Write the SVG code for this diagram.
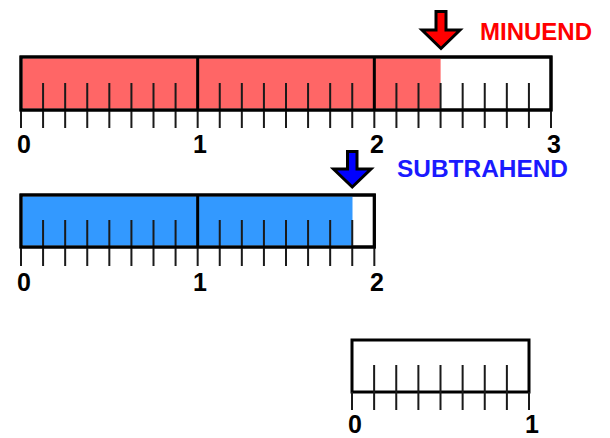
<svg xmlns="http://www.w3.org/2000/svg" width="610" height="438" viewBox="0 0 610 438">
<style>
.bar{fill:#fff;stroke:#000;stroke-width:3}
.tk{stroke:#1a1a1a;stroke-width:2}
.dv{stroke:#000;stroke-width:3}
.num{font-family:"Liberation Sans",Arial,sans-serif;font-weight:bold;font-size:25px;fill:#000;text-anchor:middle}
.lbl{font-family:"Liberation Sans",Arial,sans-serif;font-weight:bold;font-size:23px}
.arr{stroke:#000;stroke-width:3;stroke-linejoin:miter}
</style>
<g id="minuend-bar">
<rect class="bar" x="21" y="57" width="530" height="53"/>
<rect x="22.5" y="58.5" width="418.1" height="50" fill="#ff6666"/>
<path class="tk" d="M21 110V128M43.08 83V128M65.17 83V128M87.25 83V128M109.33 83V128M131.42 83V128M153.5 83V128M175.58 83V128M197.67 110V128M219.75 83V128M241.83 83V128M263.92 83V128M286 83V128M308.08 83V128M330.17 83V128M352.25 83V128M374.33 110V128M396.42 83V128M418.5 83V128M440.58 83V128M462.67 83V128M484.75 83V128M506.83 83V128M528.92 83V128M551 110V128"/>
<path class="dv" d="M197.67 57V110M374.33 57V110"/>
<rect x="21" y="57" width="530" height="53" fill="none" stroke="#000" stroke-width="3"/>
<text class="num" x="24" y="153">0</text>
<text class="num" x="200" y="153">1</text>
<text class="num" x="377" y="153">2</text>
<text class="num" x="554" y="153">3</text>
</g>
<g id="minuend-arrow">
<path class="arr" fill="#ff0000" d="M436 11.5H446V30H460L441 48.5L422 30H436Z"/>
<text class="lbl" x="480" y="39.5" fill="#ff0000" textLength="112" lengthAdjust="spacingAndGlyphs">MINUEND</text>
</g>
<g id="subtrahend-bar">
<rect class="bar" x="21" y="195" width="353.33" height="52"/>
<rect x="22.5" y="196.5" width="330" height="49" fill="#3399ff"/>
<path class="tk" d="M21 247V266M43.08 220V266M65.17 220V266M87.25 220V266M109.33 220V266M131.42 220V266M153.5 220V266M175.58 220V266M197.67 247V266M219.75 220V266M241.83 220V266M263.92 220V266M286 220V266M308.08 220V266M330.17 220V266M352.25 220V266M374.33 247V266"/>
<path class="dv" d="M197.67 195V247"/>
<rect x="21" y="195" width="353.33" height="52" fill="none" stroke="#000" stroke-width="3"/>
<text class="num" x="24" y="291">0</text>
<text class="num" x="200" y="291">1</text>
<text class="num" x="377" y="291">2</text>
</g>
<g id="subtrahend-arrow">
<path class="arr" fill="#0000ff" d="M347.5 151.5H357V169H371L352.25 187L333.5 169H347.5Z"/>
<text class="lbl" x="397" y="177" fill="#1a1aff" textLength="171" lengthAdjust="spacingAndGlyphs">SUBTRAHEND</text>
</g>
<g id="difference-bar">
<rect class="bar" x="352" y="340" width="177" height="52"/>
<path class="tk" d="M352 392V410M374.13 365V410M396.25 365V410M418.38 365V410M440.5 365V410M462.63 365V410M484.75 365V410M506.88 365V410M529 392V410"/>
<text class="num" x="355" y="433">0</text>
<text class="num" x="532" y="433">1</text>
</g>
</svg>
